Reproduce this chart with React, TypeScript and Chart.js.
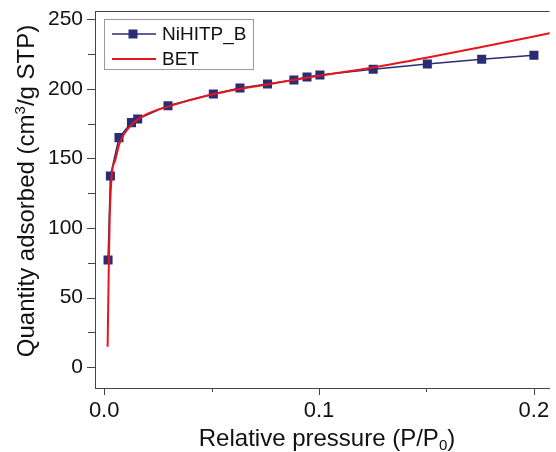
import React, { useEffect, useRef } from "react";
import { Chart, registerables } from "chart.js";

Chart.register(...registerables);

const seriesName = "NiHITP_B";
const fitName = "BET";
const pressureMeasured = [0.0018, 0.0029, 0.0069, 0.0127, 0.0156, 0.0297, 0.0508, 0.0632, 0.076, 0.0883, 0.0944, 0.1004, 0.1252, 0.1504, 0.1757, 0.2];
const quantityMeasured = [77, 137.4, 165, 175.8, 178.4, 188, 196.4, 200.7, 203.6, 206.5, 208.6, 210, 214.2, 218, 221.4, 224.2];
const pressureFit = [0.0016, 0.0022, 0.0026, 0.0035, 0.0052, 0.0072, 0.0126, 0.02, 0.03, 0.05, 0.063, 0.076, 0.088, 0.1, 0.125, 0.15, 0.175, 0.2, 0.21];
const quantityFit = [14.6, 77, 108, 137.4, 149, 161, 174, 182, 187.5, 196, 200, 203.3, 206.5, 209.5, 215.5, 222.5, 230, 237.8, 241];
const xTicks = [0, 0.05, 0.1, 0.15, 0.2];
const xTickLabels = ["0.0", "", "0.1", "", "0.2"];
const yTicks = [0, 25, 50, 75, 100, 125, 150, 175, 200, 225, 250];
const yTickLabels = ["0", "", "50", "", "100", "", "150", "", "200", "", "250"];

const FONT = '"Liberation Sans", Arial, sans-serif';
const NAVY = "#2a2c74";
const RED = "#e5161d";
const AXIS = "#444444";

const decorPlugin = {
  id: "decor",
  afterDraw(chart: any) {
    const ctx = chart.ctx as CanvasRenderingContext2D;
    const area = chart.chartArea;
    const xs = chart.scales.x;
    const ys = chart.scales.y;
    ctx.save();
    // top border
    ctx.strokeStyle = AXIS;
    ctx.lineWidth = 1;
    ctx.beginPath();
    ctx.moveTo(area.left, area.top + 0.5);
    ctx.lineTo(area.right, area.top + 0.5);
    ctx.stroke();
    // ticks
    ctx.beginPath();
    xTicks.forEach((v, i) => {
      const px = Math.round(xs.getPixelForValue(v)) + 0.5;
      const len = xTickLabels[i] ? 7 : 4;
      ctx.moveTo(px, area.bottom);
      ctx.lineTo(px, area.bottom + len);
    });
    yTicks.forEach((v, i) => {
      const py = Math.round(ys.getPixelForValue(v)) + 0.5;
      const len = yTickLabels[i] ? 8 : 7;
      ctx.moveTo(area.left, py);
      ctx.lineTo(area.left - len, py);
    });
    ctx.stroke();

    // legend
    const lx = 104.5, ly = 19.5, lw = 149, lh = 50;
    ctx.fillStyle = "#ffffff";
    ctx.fillRect(lx, ly, lw, lh);
    ctx.strokeStyle = "#999999";
    ctx.strokeRect(lx, ly, lw, lh);
    ctx.strokeStyle = NAVY;
    ctx.lineWidth = 1.5;
    ctx.beginPath();
    ctx.moveTo(112, 34);
    ctx.lineTo(156, 34);
    ctx.stroke();
    ctx.fillStyle = NAVY;
    ctx.fillRect(133 - 4.5, 34 - 4.5, 9, 9);
    ctx.strokeStyle = RED;
    ctx.lineWidth = 2;
    ctx.beginPath();
    ctx.moveTo(112, 59);
    ctx.lineTo(156, 59);
    ctx.stroke();
    ctx.fillStyle = "#111111";
    ctx.font = `19px ${FONT}`;
    ctx.textBaseline = "middle";
    ctx.textAlign = "left";
    ctx.fillText(seriesName, 162, 35);
    ctx.fillText(fitName, 162, 60);

    // x title with subscript
    ctx.fillStyle = "#111111";
    ctx.textBaseline = "alphabetic";
    const big = `24px ${FONT}`;
    const small = `15px ${FONT}`;
    const xa = "Relative pressure (P/P";
    const xb = "0";
    const xc = ")";
    ctx.font = big;
    const wa = ctx.measureText(xa).width;
    const wc = ctx.measureText(xc).width;
    ctx.font = small;
    const wb = ctx.measureText(xb).width;
    const totalX = wa + wb + wc;
    const cx = 327 - totalX / 2;
    const baseX = 446;
    ctx.font = big;
    ctx.fillText(xa, cx, baseX);
    ctx.font = small;
    ctx.fillText(xb, cx + wa, baseX + 4);
    ctx.font = big;
    ctx.fillText(xc, cx + wa + wb, baseX);

    // y title with superscript
    ctx.save();
    ctx.translate(34, 191);
    ctx.rotate(-Math.PI / 2);
    const ya = "Quantity adsorbed (cm";
    const yb = "3";
    const yc = "/g STP)";
    ctx.font = big;
    const ywa = ctx.measureText(ya).width;
    const ywc = ctx.measureText(yc).width;
    ctx.font = small;
    const ywb = ctx.measureText(yb).width;
    const totalY = ywa + ywb + ywc;
    const sx = -totalY / 2;
    ctx.font = big;
    ctx.fillText(ya, sx, 0);
    ctx.font = small;
    ctx.fillText(yb, sx + ywa, -9);
    ctx.font = big;
    ctx.fillText(yc, sx + ywa + ywb, 0);
    ctx.restore();

    ctx.restore();
  },
};

export default function App() {
  const ref = useRef<HTMLCanvasElement | null>(null);
  useEffect(() => {
    if (!ref.current) return;
    const chart = new Chart(ref.current, {
      type: "line",
      data: {
        datasets: [
          {
            label: seriesName,
            data: pressureMeasured.map((x, i) => ({ x, y: quantityMeasured[i] })),
            borderColor: NAVY,
            backgroundColor: NAVY,
            borderWidth: 1.5,
            pointStyle: "rect",
            pointRadius: 6.4,
            pointBorderWidth: 0,
            tension: 0,
            order: 2,
          },
          {
            label: fitName,
            data: pressureFit.map((x, i) => ({ x, y: quantityFit[i] })),
            borderColor: RED,
            backgroundColor: RED,
            borderWidth: 2,
            pointRadius: 0,
            cubicInterpolationMode: "monotone",
            order: 1,
          },
        ],
      },
      plugins: [decorPlugin],
      options: {
        animation: false,
        responsive: false,
        layout: { padding: { top: 11, left: 0, right: 0, bottom: 0 } },
        plugins: { legend: { display: false }, tooltip: { enabled: false } },
        scales: {
          x: {
            type: "linear",
            min: -0.00427,
            max: 0.2073,
            afterBuildTicks: (s: any) => {
              s.ticks = xTicks.map((value) => ({ value }));
            },
            afterFit: (s: any) => {
              s.height = 64;
              s.paddingLeft = 0;
              s.paddingRight = 0;
            },
            grid: { display: false, drawTicks: true, tickLength: 7 },
            border: { display: true, color: AXIS, width: 1 },
            ticks: {
              autoSkip: false,
              maxRotation: 0,
              padding: 3,
              color: "#111111",
              font: { family: FONT, size: 22 },
              callback: (_v: any, i: number) => xTickLabels[i],
            },
          },
          y: {
            type: "linear",
            min: -15.1,
            max: 256.1,
            afterBuildTicks: (s: any) => {
              s.ticks = yTicks.map((value) => ({ value }));
            },
            afterFit: (s: any) => {
              s.width = 95;
              s.paddingTop = 0;
              s.paddingBottom = 0;
            },
            grid: { display: false, drawTicks: true, tickLength: 8 },
            border: { display: true, color: AXIS, width: 1 },
            ticks: {
              autoSkip: false,
              padding: 4,
              color: "#111111",
              font: { family: FONT, size: 21 },
              callback: (_v: any, i: number) => yTickLabels[i],
            },
          },
        },
      },
    } as any);
    return () => chart.destroy();
  }, []);
  return (
    <div style={{ position: "fixed", left: 0, top: 0, width: 556, height: 452, background: "#fff" }}>
      <canvas ref={ref} width={556} height={452} style={{ display: "block" }} />
    </div>
  );
}
